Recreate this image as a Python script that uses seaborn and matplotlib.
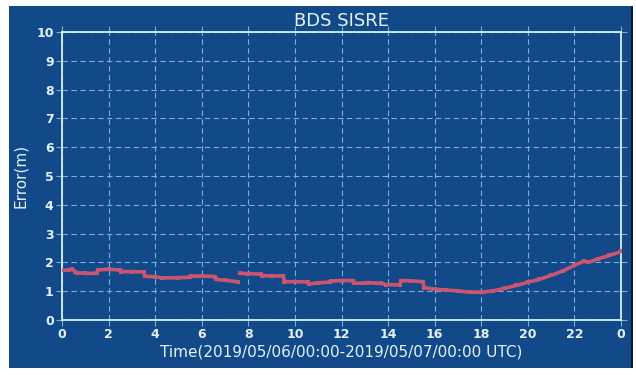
import numpy as np
import pandas as pd
import matplotlib
matplotlib.use("Agg")
import matplotlib.pyplot as plt
import seaborn as sns
from matplotlib.patches import Rectangle

# ---- data ----
hours_a = [0.0, 0.3, 0.45, 0.55, 0.65, 1.0, 1.5, 1.55, 2.0, 2.5, 2.55, 3.0, 3.5,
           3.55, 4.0, 4.3, 5.0, 5.5, 5.55, 6.0, 6.55, 6.6, 7.0, 7.55]
error_a = [1.72, 1.74, 1.77, 1.68, 1.64, 1.62, 1.62, 1.74, 1.76, 1.74, 1.68, 1.68, 1.67,
           1.52, 1.50, 1.46, 1.47, 1.48, 1.52, 1.53, 1.51, 1.41, 1.38, 1.33]
hours_b = [7.65, 8.0, 8.55, 8.6, 9.0, 9.5, 9.55, 10.0, 10.55, 10.6, 11.0, 11.5, 11.55,
           12.0, 12.5, 12.55, 13.0, 13.1, 13.7, 13.9, 14.5, 14.55, 15.0, 15.5, 15.55,
           16.0, 16.5, 17.0, 17.5, 18.0, 18.5, 19.0, 19.5, 20.0, 20.5, 21.0, 21.5,
           22.0, 22.4, 22.6, 23.0, 23.5, 24.0]
error_b = [1.62, 1.61, 1.59, 1.54, 1.53, 1.53, 1.33, 1.33, 1.32, 1.25, 1.29, 1.32, 1.35,
           1.37, 1.37, 1.28, 1.28, 1.30, 1.27, 1.23, 1.22, 1.37, 1.36, 1.33, 1.12,
           1.07, 1.04, 1.01, 0.97, 0.96, 1.01, 1.10, 1.20, 1.31, 1.41, 1.55, 1.70,
           1.90, 2.04, 2.00, 2.12, 2.24, 2.38]

x_ticks = [0, 2, 4, 6, 8, 10, 12, 14, 16, 18, 20, 22, 24]
x_tick_labels = ["0", "2", "4", "6", "8", "10", "12", "14", "16", "18", "20", "22", "0"]
y_ticks = list(range(0, 11))

df = pd.concat([
    pd.DataFrame({"hour": hours_a, "error": error_a, "seg": 0}),
    pd.DataFrame({"hour": hours_b, "error": error_b, "seg": 1}),
], ignore_index=True)

# ---- style ----
blue = "#124a89"
light = "#e4f0fa"
spine_c = "#d6f2f2"
grid_c = "#79aedd"
line_c = "#cd5470"

sns.set_theme(style="darkgrid")
plt.rcParams["font.family"] = ["DejaVu Sans"]

fig = plt.figure(figsize=(6.36, 3.75), dpi=100)
fig.patch.set_facecolor("white")
fig.add_artist(Rectangle((9 / 636, 1 - 368 / 375), 622 / 636, 362 / 375,
                         transform=fig.transFigure, facecolor=blue,
                         edgecolor="none", zorder=0))
fig.add_artist(Rectangle((631 / 636, 1 - 368 / 375), 1.5 / 636, 362 / 375,
                         transform=fig.transFigure, facecolor="#0b1a2e",
                         edgecolor="none", zorder=0))

ax = fig.add_axes([62 / 636, 1 - 320 / 375, 559 / 636, 288 / 375])
ax.set_facecolor(blue)

sns.lineplot(data=df, x="hour", y="error", units="seg", estimator=None,
             color=line_c, linewidth=2.6, ax=ax, zorder=3,
             marker="s", markersize=2.5, markeredgewidth=0)

ax.set_xlim(0, 24)
ax.set_ylim(0, 10)
ax.set_xticks(x_ticks)
ax.set_xticklabels(x_tick_labels)
ax.set_yticks(y_ticks)

ax.grid(True, color=grid_c, linestyle=(0, (5, 3)), linewidth=0.8)
for s in ax.spines.values():
    s.set_visible(True)
    s.set_color(spine_c)
    s.set_linewidth(1.3)

ax.tick_params(axis="both", which="both", direction="out", length=4, width=0.8,
               color=grid_c, labelcolor=light, labelsize=9,
               top=True, right=True, bottom=True, left=True, pad=2)
for lab in ax.get_xticklabels() + ax.get_yticklabels():
    lab.set_fontweight("bold")

ax.set_title("BDS SISRE", color=light, fontsize=13, pad=4)
ax.set_xlabel("Time(2019/05/06/00:00-2019/05/07/00:00 UTC)", color=light,
              fontsize=11, labelpad=2)
ax.set_ylabel("Error(m)", color=light, fontsize=11, labelpad=6)

fig.savefig("out.png", dpi=100, facecolor=fig.get_facecolor())
